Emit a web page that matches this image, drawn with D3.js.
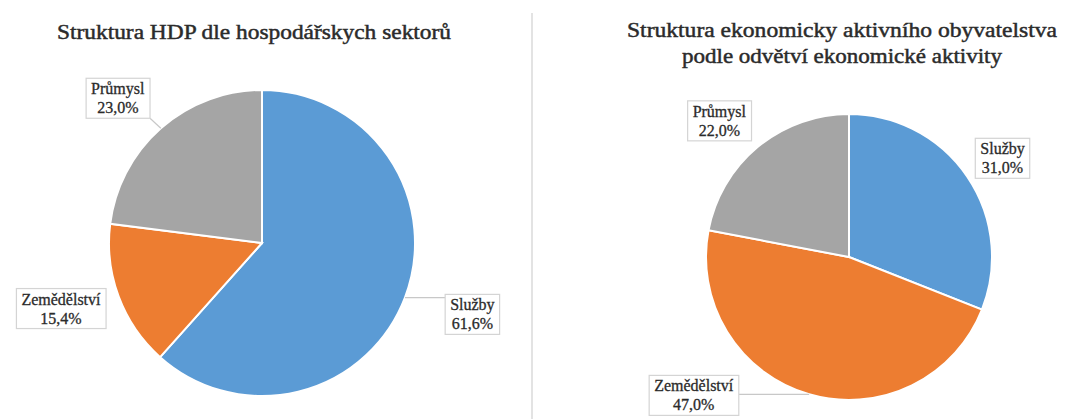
<!DOCTYPE html>
<html>
<head>
<meta charset="utf-8">
<script src="https://cdn.jsdelivr.net/npm/d3@7"></script>
<style>
  html, body { margin: 0; padding: 0; background: #fff; }
  svg { display: block; }
</style>
</head>
<body>
<div id="chart"></div>
<script>
// sectors, in clockwise order from 12 o'clock
const sectors = ['Služby', 'Zemědělství', 'Průmysl'];
const gdpShares = [61.6, 15.4, 23.0];
const laborShares = [31.0, 47.0, 22.0];
const gdpTitle = ['Struktura HDP dle hospodářskych sektorů'];
const laborTitle = ['Struktura ekonomicky aktivního obyvatelstva', 'podle odvětví ekonomické aktivity'];

const COLORS = ['#5b9bd5', '#ed7d31', '#a5a5a5'];
const TEXT = '#2b2b2b';
const FONT = '"Liberation Serif", "Times New Roman", serif';

const W = 1073, H = 419;

// layout of each panel; label placement = angle (deg, clockwise from top) + radius factor
const panels = [
  {
    values: gdpShares, title: gdpTitle, cx: 262, cy: 243, r: 153,
    titleX: 254, titleY: 39, titleW: [394],
    labels: [{ a: 108.5, f: 1.45 }, { a: 252.2, f: 1.38 }, { a: 315.3, f: 1.34 }],
  },
  {
    values: laborShares, title: laborTitle, cx: 849, cy: 257, r: 143,
    titleX: 842, titleY: 37, titleW: [430, 320],
    labels: [{ a: 57, f: 1.28 }, { a: 228.5, f: 1.45 }, { a: 316.6, f: 1.32 }],
  },
];

const svg = d3.select('#chart').append('svg').attr('width', W).attr('height', H);

// divider between the two charts
svg.append('line')
  .attr('x1', 532).attr('x2', 532).attr('y1', 13).attr('y2', H)
  .attr('stroke', '#e3e3e3').attr('stroke-width', 2);

const fmt = (v) => v.toFixed(1).replace('.', ',') + '%';
const rad = (deg) => (deg * Math.PI) / 180;

panels.forEach((p) => {
  const g = svg.append('g');

  // title
  p.title.forEach((line, i) => {
    g.append('text')
      .attr('x', p.titleX).attr('y', p.titleY + i * 26)
      .attr('text-anchor', 'middle')
      .attr('fill', TEXT)
      .attr('stroke', TEXT).attr('stroke-width', 0.45)
      .style('font-family', FONT)
      .style('font-size', '20px')
      .attr('textLength', p.titleW[i])
      .attr('lengthAdjust', 'spacingAndGlyphs')
      .text(line);
  });

  const pie = d3.pie().sort(null).value((d) => d.value);
  const arcs = pie(sectors.map((name, i) => ({ name, value: p.values[i], i })));
  const arc = d3.arc().innerRadius(0).outerRadius(p.r);

  const pg = g.append('g').attr('transform', `translate(${p.cx},${p.cy})`);
  pg.selectAll('path.slice')
    .data(arcs)
    .enter()
    .append('path')
    .attr('class', 'slice')
    .attr('d', arc)
    .attr('fill', (d) => COLORS[d.data.i])
    .attr('stroke', '#fff')
    .attr('stroke-width', 2);

  // data labels in boxes
  arcs.forEach((d, i) => {
    const L = p.labels[i];
    const lx = Math.sin(rad(L.a)) * p.r * L.f;
    const ly = -Math.cos(rad(L.a)) * p.r * L.f;

    const lg = pg.append('g').attr('transform', `translate(${lx},${ly})`);
    const t = lg.append('text')
      .attr('text-anchor', 'middle')
      .attr('fill', TEXT)
      .attr('stroke', TEXT).attr('stroke-width', 0.3)
      .style('font-family', FONT)
      .style('font-size', '16px');
    t.append('tspan').attr('x', 0).attr('y', -3).text(d.data.name);
    t.append('tspan').attr('x', 0).attr('y', 16).text(fmt(d.data.value));

    const bb = t.node().getBBox();
    const padX = 5, padY = 2;
    const bx = bb.x - padX, by = bb.y - padY, bw = bb.width + 2 * padX, bh = bb.height + 2 * padY;
    lg.insert('rect', 'text')
      .attr('x', bx).attr('y', by).attr('width', bw).attr('height', bh)
      .attr('fill', '#fff')
      .attr('stroke', '#d4d4d4')
      .attr('stroke-width', 1.2);

    // leader line from slice edge to the nearest point of the box
    const mid = (d.startAngle + d.endAngle) / 2;
    const ex = Math.sin(mid) * p.r, ey = -Math.cos(mid) * p.r;
    const nx = Math.max(lx + bx, Math.min(ex, lx + bx + bw));
    const ny = Math.max(ly + by, Math.min(ey, ly + by + bh));
    if (Math.hypot(nx - ex, ny - ey) > 14) {
      pg.insert('line', 'g')
        .attr('x1', ex).attr('y1', ey).attr('x2', nx).attr('y2', ny)
        .attr('stroke', '#c8c8c8').attr('stroke-width', 1.2);
    }
  });
});
</script>
</body>
</html>
